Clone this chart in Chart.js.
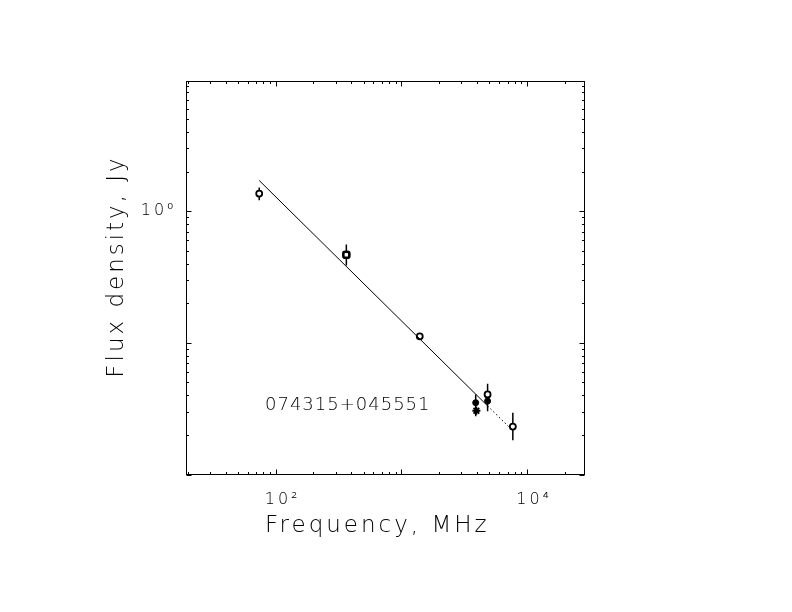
<!DOCTYPE html>
<html><head><meta charset="utf-8">
<script src="https://cdn.jsdelivr.net/npm/chart.js@4"></script>
<style>html,body{margin:0;padding:0;background:#fff}canvas{display:block}</style>
</head><body>
<canvas id="c" width="792" height="612"></canvas>
<script>
const sourceName = '074315+045551';
const xTitle = 'Frequency, MHz';
const yTitle = 'Flux density, Jy';

// measurements (MHz, Jy)
const openFreq = [74, 1400, 4850, 7700];
const openFlux = [1.36, 0.112, 0.0406, 0.0231];
const boldFreq = [365];
const boldFlux = [0.467];
const filledFreq = [3900, 4850];
const filledFlux = [0.0351, 0.0361];
const starFreq = [3950];
const starFlux = [0.0305];

// error bars
const errFreq = [74, 365, 3900, 4850, 7700];
const errLow  = [1.21, 0.387, 0.0277, 0.0302, 0.0182];
const errHigh = [1.51, 0.559, 0.0406, 0.0488, 0.0295];

// fitted spectrum
const fitFreq = [74, 4850, 7300];
const fitFlux = [1.71, 0.0332, 0.0226];

// axes
const xMin = 19.54, xMax = 28610;
const yMin = 0.01, yMax = 9.656;
const xLabelTicks = [100, 10000];
const xTickLabels = ['10²', '10⁴'];
const yLabelTicks = [1];
const yTickLabels = ['10⁰'];
const xMajorTicks = [100, 1000, 10000];
const xMinorTicks = [20,30,40,50,60,70,80,90,200,300,400,500,600,700,800,900,2000,3000,4000,5000,6000,7000,8000,9000,20000];
const yMajorTicks = [0.01, 0.1, 1];
const yMinorTicks = [0.02,0.03,0.04,0.05,0.06,0.07,0.08,0.09,0.2,0.3,0.4,0.5,0.6,0.7,0.8,0.9,2,3,4,5,6,7,8,9];

const pts = (xs, ys) => xs.map((v, i) => ({x: v, y: ys[i]}));
const FONT = '"DejaVu Sans", sans-serif';

const spacingPlugin = {
  id: 'spacing',
  beforeDraw(chart) { chart.ctx.letterSpacing = '3px'; }
};

const errorBars = {
  id: 'errorBars',
  beforeDatasetsDraw(chart) {
    const {ctx, scales: {x, y}} = chart;
    ctx.save();
    ctx.strokeStyle = '#000';
    ctx.lineWidth = 1.5;
    ctx.beginPath();
    errFreq.forEach((f, i) => {
      const px = x.getPixelForValue(f);
      ctx.moveTo(px, y.getPixelForValue(errLow[i]));
      ctx.lineTo(px, y.getPixelForValue(errHigh[i]));
    });
    ctx.stroke();
    ctx.restore();
  }
};

const frameTicks = {
  id: 'frameTicks',
  afterDraw(chart) {
    const {ctx, chartArea: a, scales: {x, y}} = chart;
    ctx.save();
    ctx.strokeStyle = '#000';
    ctx.lineWidth = 1;
    ctx.strokeRect(a.left, a.top, a.right - a.left, a.bottom - a.top);
    ctx.beginPath();
    const tx = (vals, len) => vals.forEach(v => {
      const px = Math.round(x.getPixelForValue(v)) + 0.5;
      ctx.moveTo(px, a.bottom); ctx.lineTo(px, a.bottom - len);
      ctx.moveTo(px, a.top); ctx.lineTo(px, a.top + len);
    });
    const ty = (vals, len) => vals.forEach(v => {
      const py = Math.round(y.getPixelForValue(v)) + 0.5;
      ctx.moveTo(a.left, py); ctx.lineTo(a.left + len, py);
      ctx.moveTo(a.right, py); ctx.lineTo(a.right - len, py);
    });
    tx(xMajorTicks, 5); tx(xMinorTicks, 2.5);
    ty(yMajorTicks, 5); ty(yMinorTicks, 2.5);
    ctx.stroke();

    ctx.fillStyle = '#000';
    ctx.textBaseline = 'alphabetic';
    // x title
    ctx.letterSpacing = '3px';
    ctx.font = '200 23px ' + FONT;
    ctx.textAlign = 'left';
    ctx.fillText(xTitle, 265, 532);
    // y title
    ctx.save();
    ctx.translate(123, 266.5);
    ctx.rotate(-Math.PI / 2);
    ctx.textAlign = 'center';
    ctx.fillText(yTitle, 0, 0);
    ctx.restore();
    // source name
    ctx.letterSpacing = '1px';
    ctx.font = '200 18px ' + FONT;
    ctx.textAlign = 'left';
    ctx.fillText(sourceName, 265, 410);
    ctx.restore();
  }
};

new Chart(document.getElementById('c'), {
  type: 'scatter',
  data: {
    datasets: [
      { type: 'line', data: pts(fitFreq, fitFlux), borderColor: '#000', borderWidth: 1,
        pointRadius: 0, fill: false, tension: 0,
        segment: { borderDash: ctx => ctx.p0DataIndex === 1 ? [1.5, 2.5] : undefined } },
      { data: pts(openFreq, openFlux), pointStyle: 'circle', pointRadius: 3,
        borderColor: '#000', backgroundColor: '#fff', borderWidth: 1.8 },
      { data: pts(boldFreq, boldFlux), pointStyle: 'rectRounded', pointRadius: 3.5,
        borderColor: '#000', backgroundColor: '#fff', borderWidth: 2.6 },
      { data: pts(filledFreq, filledFlux), pointStyle: 'circle', pointRadius: 3,
        borderColor: '#000', backgroundColor: '#000', borderWidth: 1 },
      { data: pts(starFreq, starFlux), pointStyle: 'star', pointRadius: 4,
        borderColor: '#000', backgroundColor: '#000', borderWidth: 1.8 }
    ]
  },
  options: {
    responsive: false,
    animation: false,
    devicePixelRatio: 1,
    layout: { padding: { left: 0, top: 81.5, right: 207.5, bottom: 0 } },
    plugins: { legend: { display: false }, tooltip: { enabled: false } },
    scales: {
      x: {
        type: 'logarithmic', position: 'bottom', min: xMin, max: xMax,
        grid: { display: false, drawTicks: false }, border: { display: false },
        afterFit: s => { s.height = 137.5; },
        afterBuildTicks: s => { s.ticks = xLabelTicks.map(v => ({value: v})); },
        ticks: {
          autoSkip: false, maxRotation: 0, minRotation: 0, padding: 16, labelOffset: 7,
          color: '#000', font: { family: FONT, size: 16, weight: 200 },
          callback: v => { const i = xLabelTicks.indexOf(v); return i >= 0 ? xTickLabels[i] : ''; }
        }
      },
      y: {
        type: 'logarithmic', position: 'left', min: yMin, max: yMax,
        grid: { display: false, drawTicks: false }, border: { display: false },
        afterFit: s => { s.width = 186.5; },
        afterBuildTicks: s => { s.ticks = yLabelTicks.map(v => ({value: v})); },
        ticks: {
          autoSkip: false, padding: 10,
          color: '#000', font: { family: FONT, size: 16, weight: 200 },
          callback: v => { const i = yLabelTicks.indexOf(v); return i >= 0 ? yTickLabels[i] : ''; }
        }
      }
    }
  },
  plugins: [spacingPlugin, errorBars, frameTicks]
});
</script>
</body></html>
